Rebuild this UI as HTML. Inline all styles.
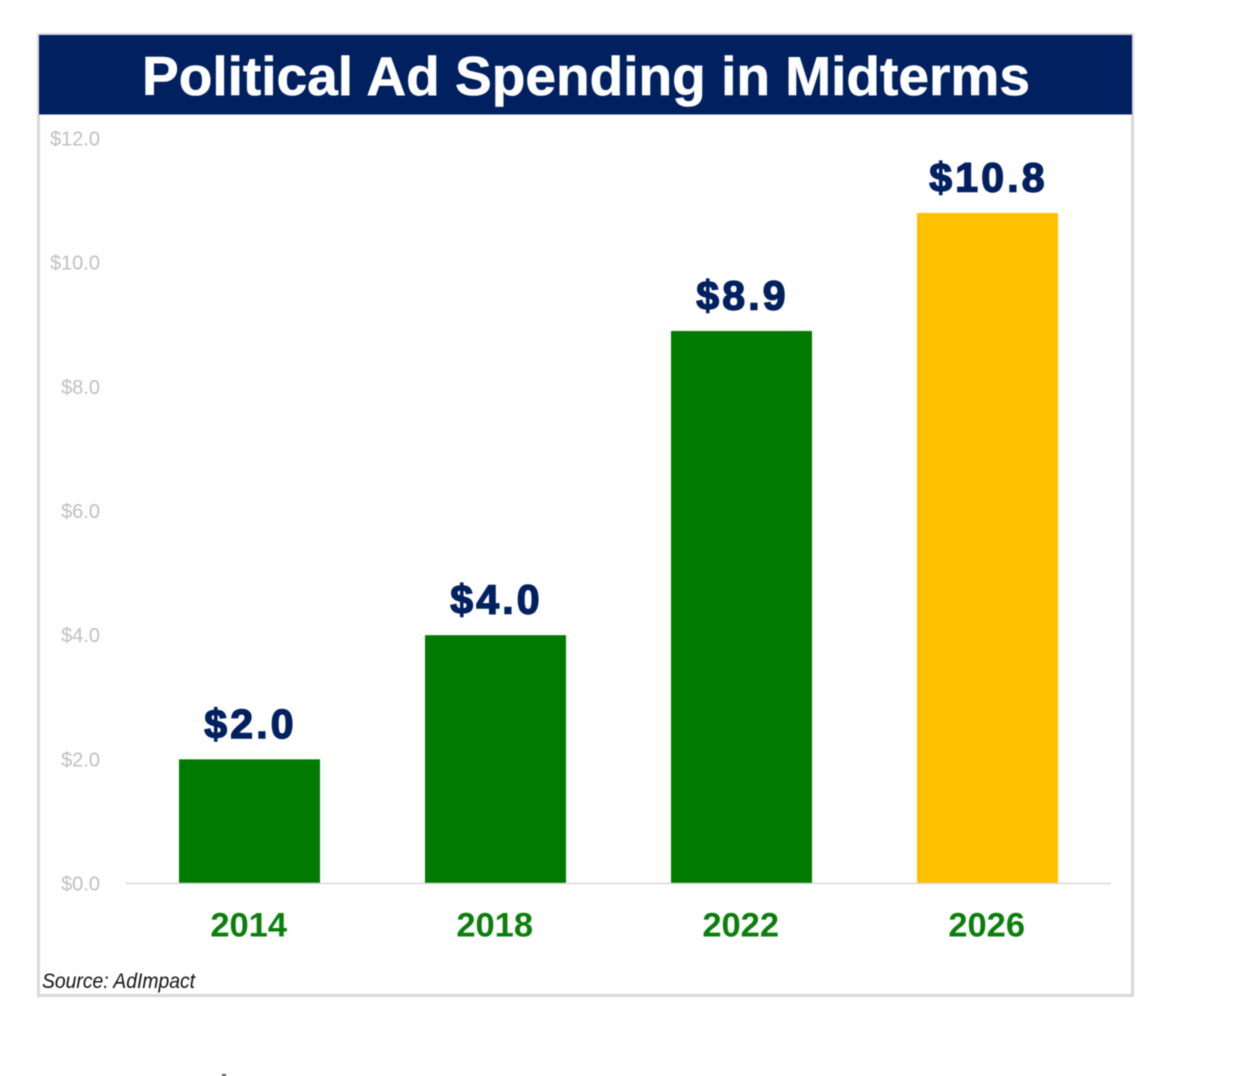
<!DOCTYPE html>
<html lang="en">
<head>
<meta charset="utf-8">
<title>Political Ad Spending in Midterms</title>
<style>
html,body{margin:0;padding:0;background:#fff;}
body{width:1234px;height:1076px;overflow:hidden;}
svg{display:block;filter:blur(.45px);}
text{font-family:"Liberation Sans",Arial,sans-serif;}
</style>
</head>
<body>
<svg id="chart" width="1234" height="1076" viewBox="0 0 1234 1076" xmlns="http://www.w3.org/2000/svg">
  <rect x="38.5" y="34.5" width="1094" height="961" fill="#fff" stroke="#d9d9d9" stroke-width="3"/>
  <rect x="39" y="35" width="1093" height="79.5" fill="#002060"/>
  <text x="586" y="95" text-anchor="middle" font-size="55" font-weight="700" fill="#fff" stroke="#fff" stroke-width="0.6" textLength="888" lengthAdjust="spacingAndGlyphs">Political Ad Spending in Midterms</text>
  <g id="y-axis"></g>
  <g id="bars"></g>
  <g id="labels"></g>
  <g id="x-axis"></g>
  <text x="42" y="988" font-size="21" font-style="italic" fill="#111" textLength="153" lengthAdjust="spacingAndGlyphs">Source: AdImpact</text>
  <rect x="222" y="1074" width="4" height="2" fill="#555"/>
</svg>
<script>
const categories = ['2014', '2018', '2022', '2026'];
const spending = [2.0, 4.0, 8.9, 10.8];
const valueLabels = ['$2.0', '$4.0', '$8.9', '$10.8'];
const barColors = ['#007a00', '#007a00', '#007a00', '#ffc000'];
const yTicks = [0, 2, 4, 6, 8, 10, 12];
const yTickLabels = ['$0.0', '$2.0', '$4.0', '$6.0', '$8.0', '$10.0', '$12.0'];

const NS = 'http://www.w3.org/2000/svg';
const plot = { left: 126, right: 1110, baseline: 883.5, top: 138.5, yMax: 12 };
const bandWidth = (plot.right - plot.left) / categories.length;
const barWidth = 141;
function yScale(v) {
  return plot.baseline - (v / plot.yMax) * (plot.baseline - plot.top);
}
function xCenter(i) {
  return plot.left + bandWidth * (i + 0.5) + 0.5;
}
function make(tag, attrs, text) {
  const el = document.createElementNS(NS, tag);
  for (const k in attrs) el.setAttribute(k, attrs[k]);
  if (text !== undefined) el.textContent = text;
  return el;
}
const yAxis = document.getElementById('y-axis');
const barsG = document.getElementById('bars');
const labelsG = document.getElementById('labels');
const xAxis = document.getElementById('x-axis');

yTicks.forEach(function (t, i) {
  const el = make('text', { x: 100, y: yScale(t) + 7, 'text-anchor': 'end', 'font-size': 20, fill: '#bfbfbf' }, yTickLabels[i]);
  
  
  yAxis.appendChild(el);
});

const axisLine = make('line', { x1: plot.left, x2: plot.right + 1, y1: plot.baseline, y2: plot.baseline, stroke: '#d9d9d9', 'stroke-width': 1.5 });


xAxis.appendChild(axisLine);

categories.forEach(function (c, i) {
  const cx = xCenter(i);
  const top = yScale(spending[i]);
  const bar = make('rect', { x: cx - barWidth / 2, y: top, width: barWidth, height: plot.baseline - top, fill: barColors[i] });
  
  
  barsG.appendChild(bar);

  const label = make('text', { x: cx + 1, y: top - 21.5, 'text-anchor': 'middle', 'font-size': 41, 'font-weight': 700, fill: '#002060', stroke: '#002060', 'stroke-width': 1.4, 'letter-spacing': 3.2 }, valueLabels[i]);
  
  
  labelsG.appendChild(label);

  const tick = make('text', { x: cx - 0.8, y: 936.5, 'text-anchor': 'middle', 'font-size': 34.5, 'font-weight': 700, fill: '#0b7f0b' }, c);
  
  
  xAxis.appendChild(tick);
});
</script>
</body>
</html>
